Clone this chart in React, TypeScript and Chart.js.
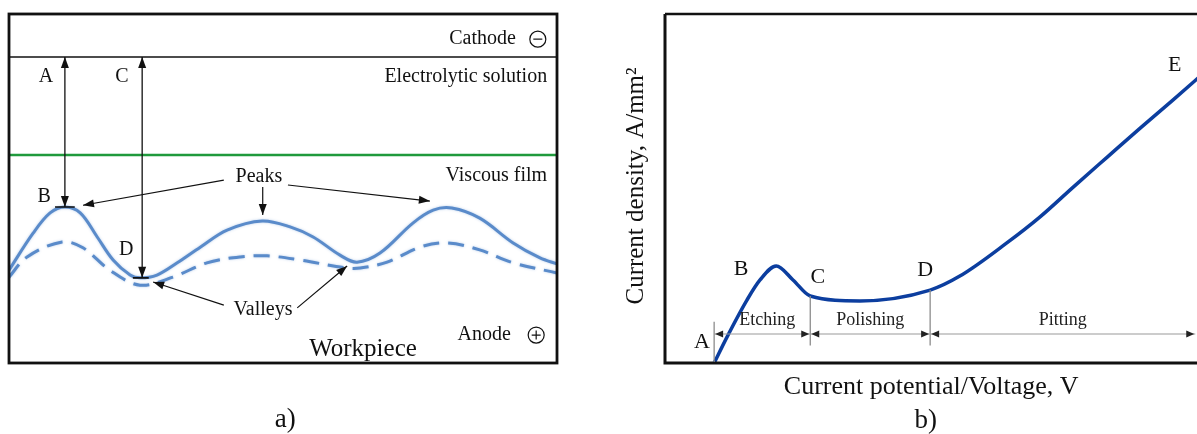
import React, { useEffect, useRef } from 'react';
import { Chart, registerables } from 'chart.js';
Chart.register(...registerables);

// ---------- Panel a) : surface profiles (x = position along workpiece 0-100, y = height 0-100)
const profileX = [0, 4.4, 7.5, 10.2, 13.0, 16.1, 19.0, 22.1, 23.9, 27.0, 30.7, 34.9, 39.8, 46.2, 51.3, 55.5, 60.4, 63.5, 67.7, 73.7, 77.4, 80.8, 85.9, 92.0, 96.9, 100];
const initialSurface = [26.6, 37.2, 43.0, 44.7, 43.0, 36.1, 29.5, 25.2, 24.4, 25.2, 28.7, 33.2, 38.1, 40.7, 39.0, 36.1, 30.9, 28.9, 31.5, 40.1, 43.8, 44.4, 41.5, 34.4, 30.1, 28.4];
const polishedX = [0, 3.3, 9.7, 13.5, 18.4, 23.9, 29.9, 36.1, 42.2, 47.1, 53.1, 61.7, 64.1, 69.0, 75.0, 79.9, 85.9, 92.0, 100];
const polishedSurface = [24.6, 30.4, 34.7, 33.0, 26.6, 22.3, 24.6, 28.7, 30.4, 30.7, 29.5, 27.2, 27.2, 28.9, 33.2, 34.4, 32.4, 28.7, 25.8];

// ---------- Panel b) : polarisation curve (x = potential, y = current density, arbitrary units)
const potential = [9.1, 11.5, 15.2, 17.6, 20.6, 23.7, 26.9, 36.1, 49.1, 54.6, 63.3, 69.4, 75.6, 81.9, 88.0, 94.1, 100];
const currentDensity = [0, 7.5, 18.1, 23.8, 27.8, 23.8, 19.2, 17.8, 20.9, 24.9, 34.4, 41.8, 50.4, 59.0, 67.3, 75.4, 83.4];
const stageNames = ['Etching', 'Polishing', 'Pitting'];
const stageBounds = [9.1, 26.9, 49.1, 98.2];

const SERIF = '"Liberation Serif", "Times New Roman", serif';

function head(ctx: CanvasRenderingContext2D, fx: number, fy: number, tx: number, ty: number, len = 11, half = 4) {
  const a = Math.atan2(ty - fy, tx - fx);
  ctx.beginPath();
  ctx.moveTo(tx, ty);
  ctx.lineTo(tx - len * Math.cos(a) + half * Math.sin(a), ty - len * Math.sin(a) - half * Math.cos(a));
  ctx.lineTo(tx - len * Math.cos(a) - half * Math.sin(a), ty - len * Math.sin(a) + half * Math.cos(a));
  ctx.closePath();
  ctx.fill();
}

function arrow(ctx: CanvasRenderingContext2D, x1: number, y1: number, x2: number, y2: number, both = false, len = 11, half = 4) {
  ctx.beginPath();
  ctx.moveTo(x1, y1);
  ctx.lineTo(x2, y2);
  ctx.stroke();
  head(ctx, x1, y1, x2, y2, len, half);
  if (both) head(ctx, x2, y2, x1, y1, len, half);
}

function text(ctx: CanvasRenderingContext2D, s: string, x: number, y: number, size: number, align: CanvasTextAlign = 'center') {
  ctx.font = `${size}px ${SERIF}`;
  ctx.textAlign = align;
  ctx.textBaseline = 'middle';
  ctx.fillText(s, x, y);
}

function circleSign(ctx: CanvasRenderingContext2D, x: number, y: number, plus: boolean) {
  ctx.lineWidth = 1.2;
  ctx.beginPath();
  ctx.arc(x, y, 8, 0, Math.PI * 2);
  ctx.stroke();
  ctx.beginPath();
  ctx.moveTo(x - 4.5, y);
  ctx.lineTo(x + 4.5, y);
  if (plus) {
    ctx.moveTo(x, y - 4.5);
    ctx.lineTo(x, y + 4.5);
  }
  ctx.stroke();
}

const panelAPlugin = {
  id: 'panelA',
  beforeDatasetsDraw(chart: any) {
    const ctx: CanvasRenderingContext2D = chart.ctx;
    const { left, right } = chart.chartArea;
    const sy = (v: number) => chart.scales.y.getPixelForValue(v);
    ctx.save();
    ctx.strokeStyle = '#111';
    ctx.lineWidth = 1.6;
    ctx.beginPath();
    ctx.moveTo(left, sy(87.7));
    ctx.lineTo(right, sy(87.7));
    ctx.stroke();
    ctx.strokeStyle = '#1f9a3c';
    ctx.lineWidth = 2.4;
    ctx.beginPath();
    ctx.moveTo(left, sy(59.6));
    ctx.lineTo(right, sy(59.6));
    ctx.stroke();
    ctx.restore();
    ctx.save();
    ctx.shadowColor = 'rgba(90,140,205,0.45)';
    ctx.shadowBlur = 2.5;
  },
  afterDatasetsDraw(chart: any) {
    chart.ctx.restore();
  },
  afterDraw(chart: any) {
    const ctx: CanvasRenderingContext2D = chart.ctx;
    const { left, right, top, bottom } = chart.chartArea;
    const sx = (v: number) => chart.scales.x.getPixelForValue(v);
    const sy = (v: number) => chart.scales.y.getPixelForValue(v);
    ctx.save();
    ctx.strokeStyle = '#111';
    ctx.lineWidth = 2.8;
    ctx.strokeRect(left, top, right - left, bottom - top);

    ctx.fillStyle = '#111';
    ctx.strokeStyle = '#111';
    ctx.lineWidth = 1.3;
    arrow(ctx, sx(10.2), sy(87.7), sx(10.2), sy(44.7), true);
    arrow(ctx, sx(24.3), sy(87.7), sx(24.3), sy(24.4), true);
    ctx.lineWidth = 1.6;
    ctx.beginPath();
    ctx.moveTo(sx(8.4), sy(44.7));
    ctx.lineTo(sx(12.0), sy(44.7));
    ctx.moveTo(sx(22.6), sy(24.4));
    ctx.lineTo(sx(25.5), sy(24.4));
    ctx.stroke();

    ctx.lineWidth = 1.2;
    arrow(ctx, sx(39.2), sy(52.4), sx(13.5), sy(45.2));
    arrow(ctx, sx(46.3), sy(50.4), sx(46.3), sy(42.4));
    arrow(ctx, sx(50.9), sy(51.0), sx(76.8), sy(46.4));
    arrow(ctx, sx(39.2), sy(16.6), sx(26.3), sy(23.2));
    arrow(ctx, sx(52.6), sy(15.8), sx(61.7), sy(27.8));

    text(ctx, 'Cathode', sx(92.5), sy(92.8), 20, 'right');
    circleSign(ctx, sx(96.5), sy(92.8), false);
    text(ctx, 'Electrolytic solution', sx(98.2), sy(82.0), 20, 'right');
    text(ctx, 'Viscous film', sx(98.2), sy(53.6), 20, 'right');
    text(ctx, 'Peaks', sx(45.6), sy(53.3), 20);
    text(ctx, 'Valleys', sx(46.35), sy(15.2), 20);
    text(ctx, 'Anode', sx(86.7), sy(8.0), 20);
    circleSign(ctx, sx(96.2), sy(8.0), true);
    text(ctx, 'Workpiece', sx(64.6), sy(4.0), 25);
    text(ctx, 'A', sx(6.75), sy(82.0), 20);
    text(ctx, 'C', sx(20.6), sy(82.0), 20);
    text(ctx, 'B', sx(6.4), sy(47.6), 20);
    text(ctx, 'D', sx(21.4), sy(32.4), 20);
    text(ctx, 'a)', sx(50.4), sy(-16.3), 27);
    ctx.restore();
  },
};

const panelBPlugin = {
  id: 'panelB',
  afterDraw(chart: any) {
    const ctx: CanvasRenderingContext2D = chart.ctx;
    const { left, top, bottom } = chart.chartArea;
    const sx = (v: number) => chart.scales.x.getPixelForValue(v);
    const sy = (v: number) => chart.scales.y.getPixelForValue(v);
    const W = chart.width;
    ctx.save();
    ctx.strokeStyle = '#111';
    ctx.lineWidth = 3;
    ctx.beginPath();
    ctx.moveTo(left, top);
    ctx.lineTo(left, bottom);
    ctx.lineTo(W, bottom);
    ctx.stroke();
    ctx.lineWidth = 2.4;
    ctx.beginPath();
    ctx.moveTo(left, top);
    ctx.lineTo(W, top);
    ctx.stroke();

    ctx.strokeStyle = '#8c8c8c';
    ctx.lineWidth = 1.3;
    stageBounds.forEach((b, i) => {
      if (i === stageBounds.length - 1) return;
      const idx = potential.indexOf(b);
      const yTop = i === 0 ? sy(11.8) : sy(currentDensity[idx]);
      const yBot = i === 0 ? bottom - 1 : sy(5.0);
      ctx.beginPath();
      ctx.moveTo(sx(b), yTop);
      ctx.lineTo(sx(b), yBot);
      ctx.stroke();
    });
    const yDim = sy(8.3);
    stageNames.forEach((name, i) => {
      const x1 = sx(stageBounds[i]);
      const x2 = sx(stageBounds[i + 1]);
      ctx.strokeStyle = '#9a9a9a';
      ctx.fillStyle = '#222';
      ctx.lineWidth = 1.1;
      ctx.beginPath();
      ctx.moveTo(x1, yDim);
      ctx.lineTo(x2, yDim);
      ctx.stroke();
      head(ctx, x1 + 10, yDim, x1 + 1, yDim, 8, 3.5);
      head(ctx, x2 - 10, yDim, x2 - 1, yDim, 8, 3.5);
      ctx.fillStyle = '#222';
      text(ctx, name, (x1 + x2) / 2 + (i === 0 ? 5 : 0), sy(12.3), 18);
    });

    ctx.fillStyle = '#111';
    text(ctx, 'A', sx(6.85), sy(6.0), 22);
    text(ctx, 'B', sx(14.1), sy(26.9), 22);
    text(ctx, 'C', sx(28.3), sy(24.6), 22);
    text(ctx, 'D', sx(48.2), sy(26.7), 22);
    text(ctx, 'E', sx(94.4), sy(85.4), 22);

    text(ctx, 'Current potential/Voltage, V', sx(49.3), bottom + 24, 26);
    text(ctx, 'b)', sx(48.3), bottom + 58, 27);
    ctx.save();
    ctx.translate(left - 29, 186);
    ctx.rotate(-Math.PI / 2);
    text(ctx, 'Current density, A/mm²', 0, 0, 25);
    ctx.restore();
    ctx.restore();
  },
};

export default function App() {
  const refA = useRef<HTMLCanvasElement>(null);
  const refB = useRef<HTMLCanvasElement>(null);

  useEffect(() => {
    const hidden = { type: 'linear' as const, min: 0, max: 100, display: false };
    const chartA = new Chart(refA.current as HTMLCanvasElement, {
      type: 'line',
      data: {
        datasets: [
          {
            label: 'Initial surface',
            data: profileX.map((x, i) => ({ x, y: initialSurface[i] })),
            borderColor: '#5a8bca',
            borderWidth: 3,
            pointRadius: 0,
            tension: 0.35,
            fill: false,
          },
          {
            label: 'Polished surface',
            data: polishedX.map((x, i) => ({ x, y: polishedSurface[i] })),
            borderColor: '#5a8bca',
            borderWidth: 3,
            borderDash: [16, 9],
            pointRadius: 0,
            tension: 0.35,
            fill: false,
          },
        ],
      },
      options: {
        responsive: false,
        animation: false,
        layout: { padding: { left: 9, top: 14, right: 23, bottom: 71 } },
        scales: { x: hidden, y: hidden },
        plugins: { legend: { display: false }, tooltip: { enabled: false }, title: { display: false } },
        events: [],
      },
      plugins: [panelAPlugin],
    } as any);

    const chartB = new Chart(refB.current as HTMLCanvasElement, {
      type: 'line',
      data: {
        datasets: [
          {
            label: 'Current density',
            data: potential.map((x, i) => ({ x, y: currentDensity[i] })),
            borderColor: '#0c3e9f',
            borderWidth: 3.5,
            pointRadius: 0,
            cubicInterpolationMode: 'monotone',
            fill: false,
          },
        ],
      },
      options: {
        responsive: false,
        animation: false,
        layout: { padding: { left: 65, top: 14, right: 10, bottom: 71 } },
        scales: { x: hidden, y: hidden },
        plugins: { legend: { display: false }, tooltip: { enabled: false }, title: { display: false } },
        events: [],
      },
      plugins: [panelBPlugin],
    } as any);

    return () => {
      chartA.destroy();
      chartB.destroy();
    };
  }, []);

  return (
    <div style={{ position: 'fixed', left: 0, top: 0, width: 1197, height: 434, overflow: 'hidden', background: '#fff' }}>
      <canvas ref={refA} width={580} height={434} style={{ position: 'absolute', left: 0, top: 0, width: 580, height: 434 }} />
      <canvas ref={refB} width={615} height={434} style={{ position: 'absolute', left: 600, top: 0, width: 615, height: 434 }} />
    </div>
  );
}
